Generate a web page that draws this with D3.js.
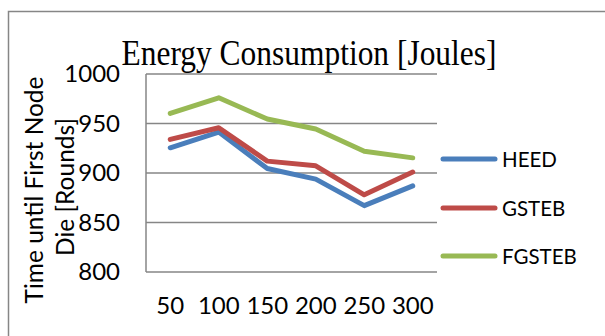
<!DOCTYPE html>
<html>
<head>
<meta charset="utf-8">
<script src="https://cdn.jsdelivr.net/npm/d3@7"></script>
<style>
  html, body { margin: 0; padding: 0; background: #fff; }
  svg { display: block; }
</style>
</head>
<body>
<svg id="chart" width="605" height="336"></svg>
<script>
// Node counts on the x axis
const categories = ["50", "100", "150", "200", "250", "300"];
// Rounds until the first node dies, per protocol
const heed   = [925.5, 941.3, 904.6, 893.8, 867, 887];
const gsteb  = [934, 945.7, 912, 907.3, 878, 901];
const fgsteb = [960.2, 976, 954.5, 944.4, 922, 915.3];
const seriesNames = ["HEED", "GSTEB", "FGSTEB"];
const seriesColors = ["#4A7EBB", "#BE4B48", "#98B954"];
const yTicks = [800, 850, 900, 950, 1000];

const series = [heed, gsteb, fgsteb];
const svg = d3.select("#chart");
const sans = "Lato, 'Open Sans', sans-serif";

// outer chart frame
svg.append("rect")
  .attr("x", 8.5).attr("y", 11.5)
  .attr("width", 800).attr("height", 500)
  .attr("fill", "none").attr("stroke", "#868686").attr("stroke-width", 1.5);

const plot = { left: 146, right: 437, top: 74, bottom: 272 };

const x = d3.scaleBand().domain(categories).range([plot.left, plot.right]);
const y = d3.scaleLinear().domain([800, 1000]).range([plot.bottom, plot.top]);

// horizontal gridlines
svg.append("g").selectAll("line").data(yTicks).join("line")
  .attr("x1", plot.left).attr("x2", plot.right)
  .attr("y1", d => y(d)).attr("y2", d => y(d))
  .attr("stroke", "#868686").attr("stroke-width", 1.5);

// vertical axis line
svg.append("line")
  .attr("x1", plot.left).attr("x2", plot.left)
  .attr("y1", plot.top).attr("y2", plot.bottom)
  .attr("stroke", "#868686").attr("stroke-width", 1.5);

// y tick labels
const yAxis = d3.axisLeft(y).tickValues(yTicks).tickFormat(d3.format("d")).tickSize(0).tickPadding(26);
const gy = svg.append("g").attr("transform", `translate(${plot.left},0)`).call(yAxis);
gy.select(".domain").remove();
gy.selectAll("text").attr("font-family", sans).attr("font-size", 24).attr("fill", "#000");

// x tick labels
const xAxis = d3.axisBottom(x).tickSize(0).tickPadding(25);
const gx = svg.append("g").attr("transform", `translate(0,${plot.bottom})`).call(xAxis);
gx.select(".domain").remove();
gx.selectAll("text").attr("font-family", sans).attr("font-size", 24).attr("fill", "#000");

// series lines
const line = d3.line()
  .x((d, i) => x(categories[i]) + x.bandwidth() / 2)
  .y(d => y(d));

svg.append("g").selectAll("path").data(series).join("path")
  .attr("d", d => line(d))
  .attr("fill", "none")
  .attr("stroke", (d, i) => seriesColors[i])
  .attr("stroke-width", 5)
  .attr("stroke-linecap", "round")
  .attr("stroke-linejoin", "round");

// title
svg.append("text")
  .attr("x", 309).attr("y", 65)
  .attr("text-anchor", "middle")
  .attr("font-family", "'Liberation Serif', 'Times New Roman', serif")
  .attr("font-size", 36)
  .attr("textLength", 375).attr("lengthAdjust", "spacingAndGlyphs")
  .text("Energy Consumption [Joules]");

// y axis title (two lines)
const yTitle = svg.append("g").attr("font-family", sans).attr("font-size", 24.5).attr("fill", "#000");
yTitle.append("text")
  .attr("transform", "translate(42.5,190) rotate(-90)")
  .attr("text-anchor", "middle")
  .text("Time until First Node");
yTitle.append("text")
  .attr("transform", "translate(74,187) rotate(-90)")
  .attr("text-anchor", "middle")
  .text("Die [Rounds]");

// legend
const legendY = [159, 208, 256];
const legend = svg.append("g").selectAll("g").data(seriesNames).join("g")
  .attr("transform", (d, i) => `translate(0,${legendY[i]})`);
legend.append("line")
  .attr("x1", 443).attr("x2", 495)
  .attr("stroke", (d, i) => seriesColors[i])
  .attr("stroke-width", 5)
  .attr("stroke-linecap", "round");
legend.append("text")
  .attr("x", 502).attr("y", 7.5)
  .attr("font-family", sans).attr("font-size", 20.5)
  .text(d => d);
</script>
</body>
</html>
